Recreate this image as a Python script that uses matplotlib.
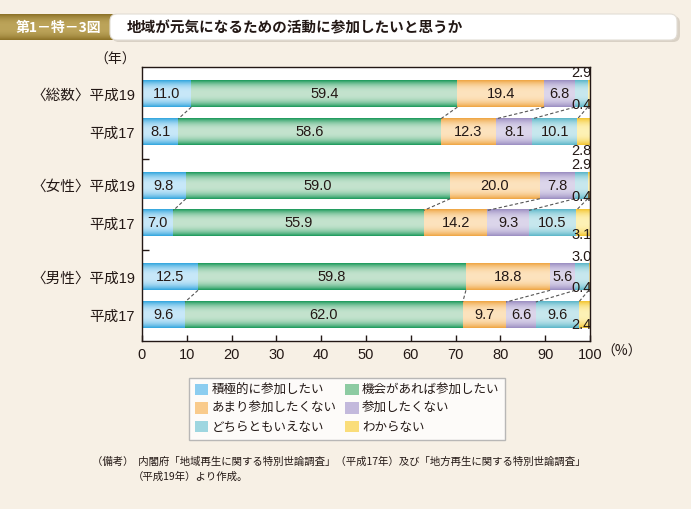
import numpy as np
import matplotlib
matplotlib.use("Agg")
import matplotlib.pyplot as plt
from matplotlib.colors import to_rgb
from matplotlib.patches import FancyBboxPatch, Patch

plt.rcParams["font.family"] = ["Liberation Sans", "Noto Sans CJK JP", "DejaVu Sans"]
jp = ["Noto Sans CJK JP", "DejaVu Sans"]

# data
categories = ["積極的に参加したい", "機会があれば参加したい", "あまり参加したくない",
              "参加したくない", "どちらともいえない", "わからない"]
row_labels = ["〈総数〉平成19", "平成17", "〈女性〉平成19", "平成17", "〈男性〉平成19", "平成17"]
total_h19 = [11.0, 59.4, 19.4, 6.8, 2.9, 0.4]
total_h17 = [8.1, 58.6, 12.3, 8.1, 10.1, 2.8]
female_h19 = [9.8, 59.0, 20.0, 7.8, 2.9, 0.4]
female_h17 = [7.0, 55.9, 14.2, 9.3, 10.5, 3.1]
male_h19 = [12.5, 59.8, 18.8, 5.6, 3.0, 0.4]
male_h17 = [9.6, 62.0, 9.7, 6.6, 9.6, 2.4]
x_ticks = [0, 10, 20, 30, 40, 50, 60, 70, 80, 90, 100]

rows = [total_h19, total_h17, female_h19, female_h17, male_h19, male_h17]

# style
light = ["#C8E8F9", "#C4E3CE", "#FDE3BE", "#DCD6EB", "#C8E8EE", "#FEF2B6"]
dark = ["#35A7DE", "#1E9B5D", "#EFA645", "#9C8FC2", "#5DB7C9", "#F3C633"]
mid = ["#8CCDF0", "#8DCBA2", "#F9CB8C", "#C3B9DC", "#9ED6E0", "#FADD7A"]
ink = "#231815"
bg = "#F7F0E5"

row_pos = [0, 1, 2.43, 3.43, 4.86, 5.86]
separators = [1.715, 4.145]
bar_h = 0.69
yellow_offsets = [0.16, -0.05, -0.08]


def gradient(c_light, c_dark, n=40):
    t = np.linspace(0, 1, n)
    f = np.abs(2 * t - 1) ** 2.5
    a, b = np.array(to_rgb(c_light)), np.array(to_rgb(c_dark))
    g = a[None, :] * (1 - f[:, None]) + b[None, :] * f[:, None]
    return g[:, None, :]


fig = plt.figure(figsize=(6.91, 5.09), dpi=100, facecolor=bg)

# header / background layer in pixel units
deco = fig.add_axes([0, 0, 1, 1], zorder=-1)
deco.set_xlim(0, 691)
deco.set_ylim(509, 0)
deco.axis("off")
deco.add_patch(FancyBboxPatch((112, 16), 568, 26, boxstyle="round,pad=0,rounding_size=7",
                              fc="#D9D1C5", ec="none"))
deco.add_patch(FancyBboxPatch((110, 14), 567, 26, boxstyle="round,pad=0,rounding_size=7",
                              fc="white", ec="#E2DDD5", lw=0.8))
deco.imshow(gradient("#BCA45A", "#8C7228"), extent=(0, 118, 40, 14), aspect="auto")
deco.set_xlim(0, 691)
deco.set_ylim(509, 0)
deco.text(59, 27.5, "第1－特－3図", color="white", fontsize=10, weight="bold",
          ha="center", va="center", family=jp)
deco.text(127, 27.5, "地域が元気になるための活動に参加したいと思うか", color=ink,
          fontsize=10.5, weight="bold", ha="left", va="center", family=jp)

ax = fig.add_axes([142 / 691, 1 - 341 / 509, 448 / 691, 274 / 509])
ax.set_facecolor("white")

for r, vals in enumerate(rows):
    y = row_pos[r]
    left = 0.0
    for k, v in enumerate(vals):
        ax.barh(y, v, left=left, height=bar_h, color=mid[k], edgecolor="none")
        ax.imshow(gradient(light[k], dark[k]), extent=(left, left + v, y + bar_h / 2, y - bar_h / 2),
                  aspect="auto", zorder=2)
        if v >= 5:
            ax.text(left + v / 2, y, f"{v:.1f}", ha="center", va="center", fontsize=10.5,
                    color=ink, zorder=4)
        left += v

# small values outside bars
for g in range(3):
    v19 = rows[2 * g]
    v17 = rows[2 * g + 1]
    y19 = row_pos[2 * g]
    y17 = row_pos[2 * g + 1]
    ax.text(100.4, y19 - bar_h / 2 - 0.02, f"{v19[4]:.1f}", ha="right", va="bottom",
            fontsize=10.5, color=ink, zorder=4)
    ax.text(100.4, y19 + bar_h / 2 - 0.05, f"{v19[5]:.1f}", ha="right", va="center",
            fontsize=10.5, color=ink, zorder=4)
    ax.text(100.4, y17 + bar_h / 2 + yellow_offsets[g], f"{v17[5]:.1f}", ha="right", va="center",
            fontsize=10.5, color=ink, zorder=4)
    c19 = np.cumsum(v19)
    c17 = np.cumsum(v17)
    for k in range(5):
        ax.plot([c19[k], c17[k]], [y19 + bar_h / 2, y17 - bar_h / 2], color="#555555",
                lw=0.8, ls=(0, (3, 2)), zorder=3)

ax.set_xlim(0, 100)
ax.set_ylim(6.55, -0.72)
ax.set_xticks(x_ticks)
ax.set_xticklabels([str(t) for t in x_ticks], fontsize=10.5, color=ink)
ax.tick_params(axis="x", direction="in", length=4, width=1, color=ink, pad=5)
ax.set_yticks(row_pos)
ax.set_yticklabels(row_labels, fontsize=10.5, color=ink)
ax.tick_params(axis="y", which="major", length=0, pad=5)
ax.set_yticks(separators, minor=True)
ax.tick_params(axis="y", which="minor", direction="in", length=5, width=1, color=ink)
for s in ax.spines.values():
    s.set_color(ink)
    s.set_linewidth(1)

fig.text(115 / 691, 1 - 60 / 509, "（年）", ha="center", va="center", fontsize=10,
         color=ink, family=jp)
fig.text(622 / 691, 1 - 352 / 509, "（%）", ha="center", va="center", fontsize=10,
         color=ink, family=jp)

order = [0, 2, 4, 1, 3, 5]
handles = [Patch(facecolor=mid[i], edgecolor="none") for i in order]
leg = fig.legend(handles, [categories[i] for i in order], ncol=2, loc="upper left",
                 bbox_to_anchor=(189 / 691, 1 - 378 / 509), borderaxespad=0, frameon=True,
                 prop={"family": jp, "size": 9}, fancybox=False, edgecolor="#A8A8A8",
                 handlelength=1.1, handleheight=1.0, handletextpad=0.25,
                 columnspacing=0.7, labelspacing=0.45, borderpad=0.45)
leg.get_frame().set_linewidth(1)
for t in leg.get_texts():
    t.set_color(ink)

fig.text(92 / 691, 1 - 462 / 509,
         "（備考）  内閣府「地域再生に関する特別世論調査」（平成17年）及び「地方再生に関する特別世論調査」",
         ha="left", va="center", fontsize=7.5, color=ink, family=jp)
fig.text(133 / 691, 1 - 477 / 509, "（平成19年）より作成。", ha="left", va="center",
         fontsize=7.5, color=ink, family=jp)

fig.savefig("out.png", dpi=100, facecolor=bg)
